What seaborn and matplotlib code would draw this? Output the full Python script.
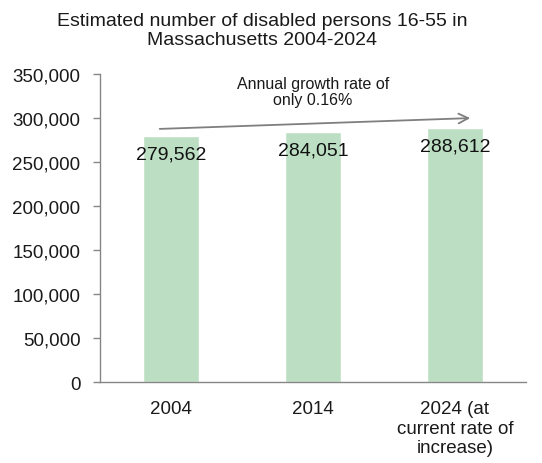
import matplotlib
matplotlib.use("Agg")
import matplotlib.pyplot as plt
import matplotlib.ticker as mticker
import seaborn as sns
import pandas as pd

# chart values
categories = ["2004", "2014", "2024 (at\ncurrent rate of\nincrease)"]
values = [279562, 284051, 288612]
value_labels = ["279,562", "284,051", "288,612"]
y_ticks = [0, 50000, 100000, 150000, 200000, 250000, 300000, 350000]
title = "Estimated number of disabled persons 16-55 in\nMassachusetts 2004-2024"
note = "Annual growth rate of\nonly 0.16%"
arrow_start = (-0.099, 287500)
arrow_end = (2.127, 300000)

sns.set_style("white")
plt.rcParams["font.family"] = ["Liberation Sans", "DejaVu Sans"]

df = pd.DataFrame({"year": categories, "persons": values})

fig = plt.figure(figsize=(5.42, 4.64), dpi=100)
ax = fig.add_axes([100 / 542, 1 - 383 / 464, 426 / 542, 308 / 464])

sns.barplot(data=df, x="year", y="persons", color="#bcdfc3", saturation=1,
            width=0.39, ax=ax)

ax.set_xlim(-0.5, 2.5)
ax.set_ylim(0, 350000)
ax.set_yticks(y_ticks)
ax.yaxis.set_major_formatter(mticker.FuncFormatter(lambda v, p: f"{int(v):,}"))
ax.set_xlabel("")
ax.set_ylabel("")

# excel-style ticks on the category boundaries
ax.set_xticks([-0.5, 0.5, 1.5, 2.5], minor=True)
ax.tick_params(axis="x", which="minor", length=5, color="#868686", width=1)
ax.tick_params(axis="x", which="major", length=0, pad=13, labelsize=13.5, colors="#1a1a1a")
ax.tick_params(axis="y", length=5, color="#868686", width=1, pad=9, labelsize=13.5,
               colors="#1a1a1a", left=True)

for side in ["top", "right"]:
    ax.spines[side].set_visible(False)
for side in ["left", "bottom"]:
    ax.spines[side].set_color("#868686")
    ax.spines[side].set_linewidth(1)

for i, (v, lab) in enumerate(zip(values, value_labels)):
    ax.annotate(lab, xy=(i, v), xytext=(0, -13), textcoords="offset points",
                ha="center", va="center", fontsize=14, color="#111111")

ax.annotate("", xy=arrow_end, xytext=arrow_start,
            arrowprops=dict(arrowstyle="->,head_length=0.7,head_width=0.35",
                            color="#7f7f7f", lw=1.3))
ax.text(1.0, 330000, note, ha="center", va="center", fontsize=11.5,
        color="#1a1a1a", linespacing=1.1)

fig.text(262 / 542, 1 - 31 / 464, title, ha="center", va="center", fontsize=14,
         color="#1a1a1a", linespacing=1.2)

fig.savefig("out.png", dpi=100)
